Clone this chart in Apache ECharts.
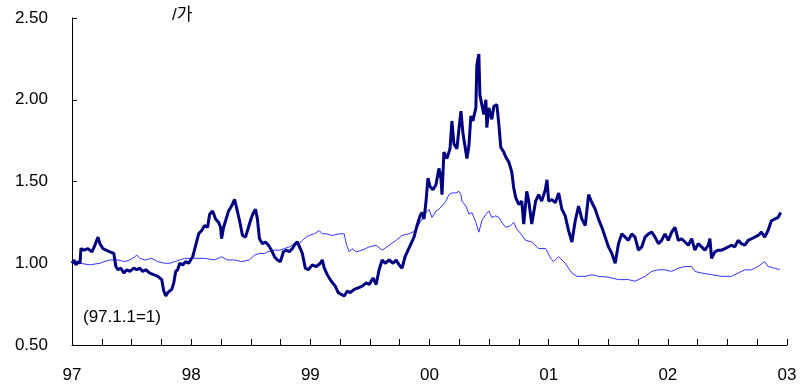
<!DOCTYPE html>
<html>
<head>
<meta charset="utf-8">
<script src="https://cdn.jsdelivr.net/npm/echarts@6/dist/echarts.min.js"></script>
<style>
html,body{margin:0;padding:0;background:#fff;}
#chart{width:810px;height:385px;}
</style>
</head>
<body>
<div id="chart"></div>
<script>
// x = years elapsed since 1 Jan 1997
var xTickLabels = ['97','98','99','00','01','02','03'];
var yTickValues = [0.5, 1.0, 1.5, 2.0, 2.5];

var navyYears = [0.000,0.017,0.033,0.050,0.067,0.075,0.100,0.134,0.167,0.192,0.218,0.234,0.259,0.285,0.318,0.351,0.368,0.385,0.410,0.435,0.460,0.485,0.519,0.544,0.569,0.594,0.619,0.653,0.686,0.720,0.753,0.770,0.787,0.803,0.837,0.854,0.870,0.887,0.904,0.929,0.954,0.979,1.013,1.038,1.063,1.088,1.113,1.138,1.155,1.180,1.205,1.230,1.247,1.255,1.272,1.289,1.314,1.339,1.364,1.381,1.406,1.431,1.456,1.481,1.506,1.523,1.540,1.556,1.573,1.598,1.623,1.649,1.674,1.699,1.724,1.749,1.774,1.799,1.824,1.849,1.874,1.891,1.916,1.933,1.958,1.983,2.017,2.050,2.084,2.100,2.117,2.142,2.176,2.209,2.234,2.259,2.285,2.310,2.335,2.368,2.402,2.435,2.469,2.494,2.527,2.552,2.577,2.603,2.628,2.661,2.695,2.720,2.745,2.770,2.795,2.820,2.845,2.870,2.895,2.921,2.937,2.954,2.971,2.987,3.004,3.029,3.054,3.079,3.096,3.105,3.121,3.146,3.172,3.188,3.205,3.230,3.247,3.264,3.280,3.297,3.314,3.331,3.347,3.364,3.389,3.397,3.414,3.423,3.439,3.456,3.473,3.481,3.498,3.523,3.540,3.565,3.582,3.598,3.623,3.640,3.665,3.690,3.707,3.724,3.749,3.774,3.791,3.816,3.833,3.858,3.891,3.916,3.941,3.972,3.986,4.000,4.028,4.056,4.084,4.111,4.139,4.167,4.195,4.223,4.251,4.279,4.307,4.335,4.363,4.391,4.418,4.446,4.474,4.502,4.530,4.558,4.586,4.614,4.642,4.669,4.697,4.725,4.753,4.781,4.809,4.837,4.865,4.893,4.921,4.948,4.976,5.004,5.032,5.060,5.088,5.116,5.144,5.172,5.200,5.227,5.255,5.283,5.311,5.339,5.353,5.367,5.395,5.423,5.451,5.479,5.534,5.562,5.590,5.618,5.646,5.674,5.702,5.757,5.785,5.813,5.841,5.869,5.897,5.925,5.947];
var navyValues = [1.00,1.02,0.99,1.01,1.00,1.09,1.08,1.09,1.07,1.11,1.16,1.12,1.09,1.08,1.07,1.06,0.98,0.96,0.97,0.94,0.96,0.95,0.97,0.96,0.97,0.95,0.96,0.94,0.93,0.92,0.90,0.83,0.80,0.82,0.84,0.88,0.95,0.96,1.00,0.99,1.01,1.00,1.04,1.11,1.18,1.20,1.23,1.22,1.30,1.32,1.27,1.25,1.22,1.15,1.22,1.26,1.32,1.35,1.39,1.34,1.26,1.17,1.16,1.22,1.28,1.31,1.33,1.27,1.15,1.12,1.13,1.11,1.08,1.04,1.02,1.01,1.07,1.08,1.07,1.09,1.12,1.13,1.09,1.06,0.97,0.96,0.99,0.98,1.00,1.02,0.97,0.93,0.89,0.86,0.82,0.81,0.80,0.83,0.82,0.84,0.85,0.86,0.88,0.87,0.91,0.87,0.96,1.02,1.00,1.02,1.00,1.02,0.99,0.97,1.04,1.08,1.12,1.16,1.23,1.29,1.31,1.27,1.38,1.52,1.47,1.45,1.48,1.58,1.52,1.42,1.68,1.64,1.70,1.87,1.73,1.70,1.82,1.93,1.80,1.72,1.64,1.72,1.90,1.87,1.95,2.21,2.28,2.03,1.97,1.91,2.00,1.83,1.95,1.88,1.96,1.97,1.85,1.71,1.68,1.65,1.62,1.56,1.46,1.40,1.36,1.38,1.24,1.44,1.38,1.24,1.38,1.42,1.38,1.45,1.51,1.38,1.39,1.37,1.43,1.33,1.29,1.20,1.13,1.26,1.35,1.27,1.23,1.42,1.37,1.33,1.27,1.22,1.16,1.10,1.06,1.00,1.12,1.18,1.16,1.14,1.18,1.16,1.08,1.10,1.16,1.18,1.19,1.16,1.12,1.14,1.18,1.14,1.19,1.22,1.14,1.15,1.13,1.11,1.15,1.08,1.12,1.10,1.08,1.11,1.15,1.03,1.07,1.08,1.08,1.09,1.11,1.10,1.14,1.12,1.11,1.14,1.15,1.17,1.19,1.16,1.20,1.26,1.27,1.28,1.31];

var blueYears = [0.000,0.067,0.151,0.234,0.268,0.318,0.385,0.444,0.485,0.527,0.544,0.569,0.611,0.669,0.720,0.778,0.820,0.862,0.904,0.946,1.029,1.113,1.197,1.255,1.305,1.364,1.423,1.490,1.531,1.573,1.615,1.640,1.699,1.741,1.782,1.824,1.849,1.908,1.933,1.967,1.992,2.033,2.075,2.100,2.134,2.184,2.243,2.285,2.301,2.326,2.351,2.385,2.435,2.494,2.552,2.603,2.661,2.720,2.770,2.828,2.887,2.912,2.937,2.971,2.996,3.021,3.054,3.079,3.105,3.138,3.163,3.188,3.222,3.247,3.264,3.272,3.305,3.331,3.356,3.389,3.414,3.439,3.473,3.498,3.523,3.556,3.582,3.607,3.640,3.682,3.707,3.732,3.766,3.807,3.858,3.916,3.975,4.017,4.042,4.084,4.139,4.195,4.237,4.307,4.363,4.418,4.502,4.586,4.669,4.725,4.809,4.865,4.921,4.976,5.032,5.088,5.144,5.200,5.227,5.283,5.367,5.451,5.534,5.590,5.646,5.702,5.757,5.813,5.841,5.897,5.939];
var blueValues = [1.00,1.00,0.99,1.00,1.01,1.02,1.02,1.01,1.02,1.04,1.05,1.03,1.02,1.03,1.01,1.00,1.00,1.01,1.02,1.03,1.03,1.03,1.02,1.04,1.02,1.02,1.01,1.02,1.05,1.06,1.06,1.07,1.08,1.08,1.09,1.10,1.11,1.12,1.14,1.16,1.17,1.18,1.20,1.18,1.18,1.17,1.18,1.18,1.12,1.07,1.09,1.07,1.08,1.10,1.11,1.08,1.11,1.14,1.17,1.18,1.20,1.24,1.27,1.31,1.33,1.28,1.32,1.33,1.35,1.38,1.42,1.43,1.43,1.44,1.42,1.38,1.35,1.30,1.31,1.25,1.19,1.26,1.30,1.32,1.28,1.29,1.28,1.25,1.22,1.23,1.25,1.21,1.18,1.14,1.13,1.09,1.09,1.03,1.01,1.04,1.00,0.94,0.92,0.92,0.93,0.92,0.915,0.90,0.90,0.89,0.92,0.95,0.96,0.96,0.95,0.97,0.98,0.98,0.95,0.94,0.93,0.92,0.92,0.94,0.96,0.96,0.98,1.01,0.98,0.97,0.96];

function zip(a, b) { return a.map(function (x, i) { return [x, b[i]]; }); }

var chart = echarts.init(document.getElementById('chart'));
var FONT = '"Liberation Sans", Arial, "Noto Sans CJK KR", sans-serif';
chart.setOption({
  animation: false,
  backgroundColor: '#fff',
  grid: { left: 72, right: 23, top: 18, bottom: 40, containLabel: false },
  xAxis: {
    type: 'value', min: 0, max: 6, interval: 0.25,
    axisLine: { show: true, lineStyle: { color: '#000', width: 1 } },
    axisTick: { show: true, inside: true, length: 6, lineStyle: { color: '#000' } },
    splitLine: { show: false },
    axisLabel: {
      margin: 22, fontSize: 17, color: '#000', fontFamily: FONT,
      formatter: function (v) { return Math.abs(v - Math.round(v)) < 1e-6 ? xTickLabels[Math.round(v)] : ''; }
    }
  },
  yAxis: {
    type: 'value', min: yTickValues[0], max: yTickValues[yTickValues.length - 1], interval: 0.5,
    axisLine: { show: true, lineStyle: { color: '#000', width: 1 } },
    axisTick: { show: true, inside: true, length: 5, lineStyle: { color: '#000' } },
    splitLine: { show: false },
    axisLabel: { margin: 24, fontSize: 17, color: '#000', fontFamily: FONT,
      formatter: function (v) { return v.toFixed(2); } }
  },
  graphic: [
    { type: 'text', left: 172, top: 7, style: { text: '/가', font: '17px ' + FONT, fill: '#000' } },
    { type: 'text', left: 83, top: 309, style: { text: '(97.1.1=1)', font: '17px ' + FONT, fill: '#000' } }
  ],
  series: [
    { type: 'line', data: zip(blueYears, blueValues), showSymbol: false, z: 2,
      lineStyle: { color: '#3333ff', width: 1 } },
    { type: 'line', data: zip(navyYears, navyValues), showSymbol: false, z: 3,
      lineStyle: { color: '#000080', width: 3 } }
  ]
});
</script>
</body>
</html>
